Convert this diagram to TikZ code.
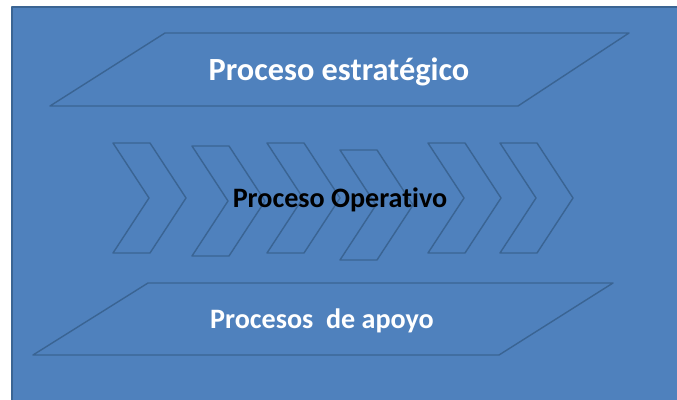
\documentclass[tikz,border=0pt]{standalone}
\usepackage{fontspec}
\setmainfont{Carlito}[Ligatures=NoCommon]
\definecolor{fondo}{HTML}{4F81BD}
\definecolor{borde}{HTML}{3A6493}
\tikzset{
  lado/.style={draw=borde, line width=1pt, line join=round},
  titulo/.style={font=\bfseries\fontsize{23}{26}\selectfont, text=white},
}
\begin{document}
\begin{tikzpicture}[x=0.025cm, y=-0.025cm]
    \useasboundingbox (0,0) rectangle (677,400);
    % Background
    \fill[white] (0,0) rectangle (677,400);
    \draw[lado, fill=fondo] (12,7) rectangle (690,410);

    % Top band
    \draw[lado] (165,33) -- (629,33) -- (518,106) -- (50,106) -- cycle;
    \node[titulo] (estrategico) at (339,72) {Proceso estratégico};

    % Middle row of chevrons
    \foreach \l/\t in {113/143, 192/146, 267/143, 340/150, 428/143, 500/143}
      \draw[lado] (\l,\t) -- (\l+37,\t) -- (\l+73,\t+55) -- (\l+37,\t+110)
        -- (\l,\t+110) -- (\l+36,\t+55) -- cycle;
    \node[titulo, text=black, font=\bfseries\fontsize{20}{24}\selectfont]
      (operativo) at (340,200) {Proceso Operativo};

    % Bottom band
    \draw[lado] (148,283) -- (613,283) -- (499,355) -- (33,355) -- cycle;
    \node[titulo, font=\bfseries\fontsize{20}{24}\selectfont]
      (apoyo) at (322,321) {Procesos\ \ de apoyo};
  \end{tikzpicture}
\end{document}
